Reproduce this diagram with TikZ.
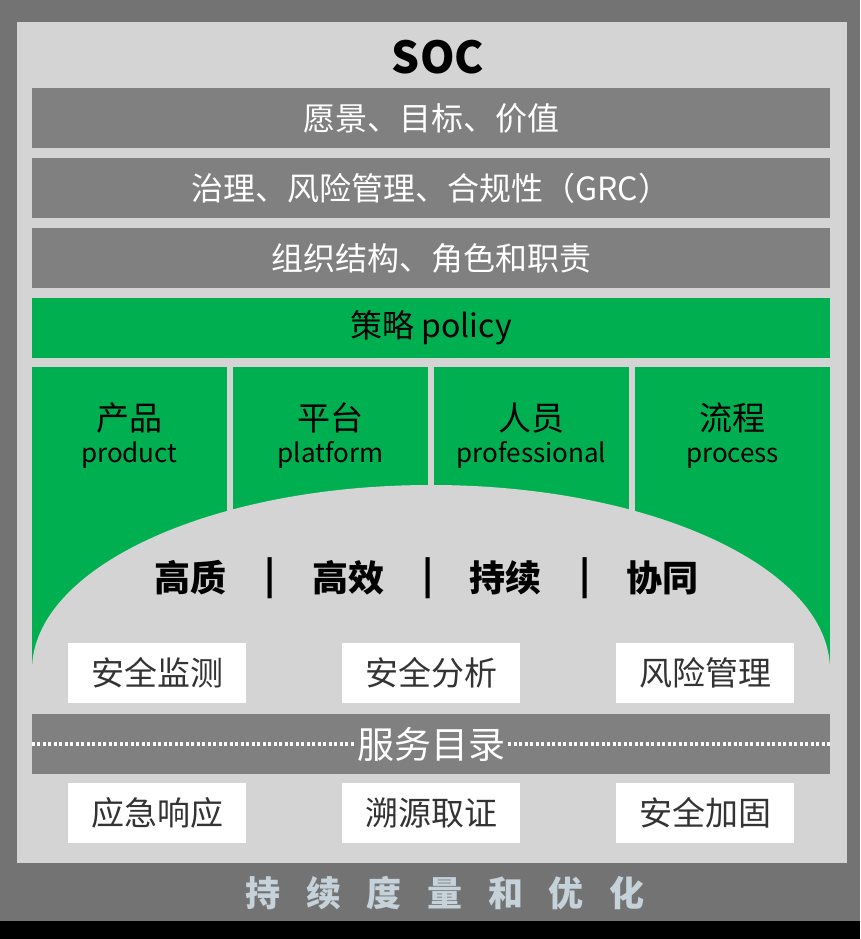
\documentclass[tikz,border=0pt]{standalone}
\usepackage{fontspec}
\setmainfont{Noto Sans CJK SC}
\usetikzlibrary{positioning}
\definecolor{bggray}{HTML}{737373}
\definecolor{panelgray}{HTML}{D4D4D4}
\definecolor{bargray}{HTML}{808080}
\definecolor{socgreen}{HTML}{00B050}
\definecolor{footblue}{HTML}{C5D2DA}

\begin{document}
\begin{tikzpicture}[x=1pt,y=-1pt,node distance=70pt,on grid,
   bar/.style={fill=bargray,minimum width=798pt,minimum height=60pt,inner sep=0pt,
               text=white,font=\fontsize{32}{36}\selectfont},
   greenbar/.style={bar,fill=socgreen,text=black},
   pillar/.style={fill=socgreen,minimum width=194.6pt,minimum height=303pt,inner sep=0pt},
   pillartext/.style={text=black,inner sep=0pt,anchor=base},
   motto/.style={font=\fontsize{36}{40}\selectfont\bfseries,text=black},
   servicebox/.style={fill=white,minimum width=178pt,minimum height=60pt,inner sep=0pt,
               text=black!80,font=\fontsize{33}{36}\selectfont},
   dotline/.style={white,line width=3.5pt,dash pattern=on 3pt off 2.5pt}]
   \fill[bggray] (0,0) rectangle (860,921);
   \fill[black] (0,921) rectangle (860,939);
   \fill[panelgray] (17,22) rectangle (847,863);

   \node[font=\fontsize{44}{48}\selectfont\bfseries] (soc) at (438,57) {SOC};
   \node[bar] (bar_1) at (431,118) {愿景、目标、价值};
   \node[bar,below=of bar_1] (bar_2) {治理、风险管理、合规性（GRC）};
   \node[bar,below=of bar_2] (bar_3) {组织结构、角色和职责};
   \node[greenbar,below=of bar_3] (policy) {策略 policy};

   \foreach \cn/\en [count=\i] in {产品/product,平台/platform,人员/professional,流程/process} {
      \node[pillar] (pillar_\i) at ({129.3+(\i-1)*201.1},518.5) {};
      \node[pillartext,font=\fontsize{33}{36}\selectfont] (pillar_cn_\i) at ([yshift=-64pt]pillar_\i.north) {\cn};
      \node[pillartext,font=\fontsize{26}{30}\selectfont] (pillar_en_\i) at ([yshift=-96pt]pillar_\i.north) {\en};
   }
   \fill[panelgray] (32,670) arc[start angle=180,end angle=360,x radius=399,y radius=185];

   \foreach \word/\x [count=\i] in {高质/190,|/270,高效/348,|/428,持续/505,|/585,协同/662}
      \node[motto] (motto_\i) at (\x,578) {\word};

   \node[servicebox] (svc_1) at (157,673) {安全监测};
   \node[servicebox] (svc_2) at (431,673) {安全分析};
   \node[servicebox] (svc_3) at (705,673) {风险管理};

   \node[bar,minimum height=60pt] (catalog) at (431,744) {};
   \node[text=white,font=\fontsize{37}{40}\selectfont,inner sep=3pt] (catalog_title) at (431,744) {服务目录};
   \draw[dotline] (catalog.west) -- (catalog_title.west);
   \draw[dotline] (catalog_title.east) -- (catalog.east);

   \node[servicebox] (svc_4) at (157,813) {应急响应};
   \node[servicebox] (svc_5) at (431,813) {溯源取证};
   \node[servicebox] (svc_6) at (705,813) {安全加固};

   \node[text=footblue,font=\fontsize{35}{40}\selectfont\bfseries\addfontfeatures{LetterSpace=73}]
      (footer) at (445,893) {持续度量和优化};
\end{tikzpicture}
\end{document}
